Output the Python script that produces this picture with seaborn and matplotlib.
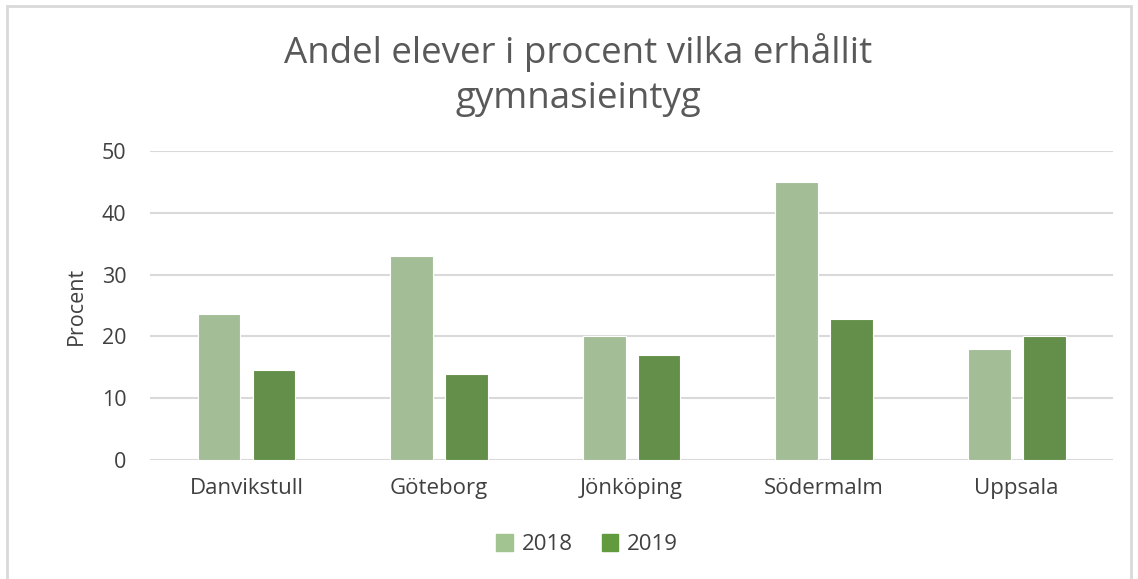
import seaborn as sns
import matplotlib.pyplot as plt
import pandas as pd
from matplotlib.patches import Rectangle

# Data
skolor = ["Danvikstull", "Göteborg", "Jönköping", "Södermalm", "Uppsala"]
ar = ["2018", "2019"]
andel_2018 = [23.7, 33.0, 20.0, 45.0, 18.0]
andel_2019 = [14.6, 14.0, 17.0, 22.9, 20.0]

df = pd.DataFrame({
    "skola": skolor * 2,
    "ar": [ar[0]] * len(skolor) + [ar[1]] * len(skolor),
    "procent": andel_2018 + andel_2019,
})

sns.set_theme(style="white")
plt.rcParams["font.family"] = ["Open Sans", "DejaVu Sans"]

grey = "#595959"
txt = "#404040"
palette = {"2018": "#A1C490", "2019": "#629A3E"}

fig = plt.figure(figsize=(11.38, 5.79), dpi=100)
ax = fig.add_axes([0.132, 0.2055, 0.846, 0.5335])

sns.barplot(data=df, x="skola", y="procent", hue="ar", palette=palette,
            width=0.57, gap=0.22, edgecolor="white", linewidth=0.8,
            ax=ax, legend=False)

ax.set_ylim(0, 50)
ax.set_yticks(range(0, 51, 10))
ax.yaxis.grid(True, color="#D9D9D9", linewidth=1.5)
ax.set_axisbelow(True)
for s in ax.spines.values():
    s.set_visible(False)
ax.tick_params(axis="y", labelsize=15.5, length=0, pad=17)
ax.tick_params(axis="x", labelsize=16, length=0, pad=13)
for lbl in ax.get_xticklabels() + ax.get_yticklabels():
    lbl.set_color(txt)
ax.set_xlabel("")
ax.set_ylabel("Procent", fontsize=15.5, color=txt, labelpad=11)
ax.set_xlim(-0.5, len(skolor) - 0.5)

fig.text(0.508, 1 - 75 / 579, "Andel elever i procent vilka erhållit\ngymnasieintyg",
         ha="center", va="center", fontsize=26.5, color=grey, linespacing=1.3)

handles = [Rectangle((0, 0), 1, 1, color=palette[a]) for a in ar]
fig.legend(handles, ar, loc="center", bbox_to_anchor=(0.516, 0.059), ncol=2,
           frameon=False, fontsize=16, handlelength=0.75, handleheight=0.75,
           columnspacing=1.3, handletextpad=0.4, labelcolor=txt)

# outer chart border
fig.patches.append(Rectangle((7 / 1138, -0.01), 1 - 14 / 1138, 1 - 6 / 579 + 0.01,
                             transform=fig.transFigure, fill=False,
                             edgecolor="#D9D9D9", linewidth=2))

plt.savefig("out.png", dpi=100)
